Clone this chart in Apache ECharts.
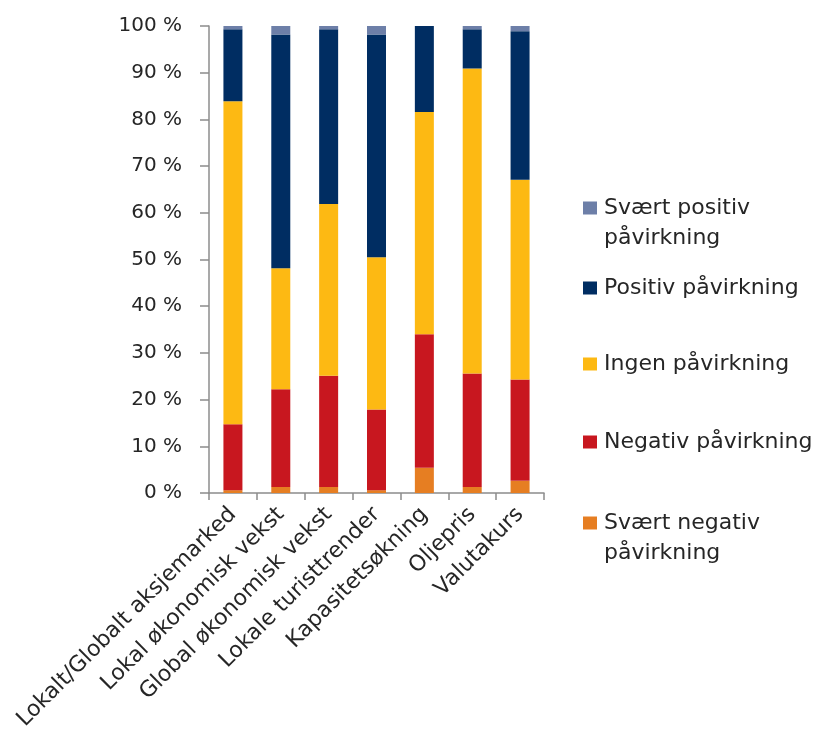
<!DOCTYPE html>
<html>
<head>
<meta charset="utf-8">
<script src="https://cdn.jsdelivr.net/npm/echarts@6/dist/echarts.min.js"></script>
<style>
  html, body { margin: 0; padding: 0; background: #fff; }
  #chart { width: 820px; height: 740px; }
</style>
</head>
<body>
<div id="chart"></div>
<script>
// kategorier (x-aksen)
const categories = [
  "Lokalt/Globalt aksjemarked",
  "Lokal økonomisk vekst",
  "Global økonomisk vekst",
  "Lokale turisttrender",
  "Kapasitetsøkning",
  "Oljepris",
  "Valutakurs"
];

// andeler i prosent, fra bunnen av søylen og opp
const sværtNegativ = [0.6, 1.3, 1.3, 0.6, 5.4, 1.3, 2.6];
const negativ      = [14.1, 20.9, 23.8, 17.3, 28.6, 24.3, 21.7];
const ingen        = [69.2, 25.9, 36.8, 32.6, 47.6, 65.3, 42.8];
const positiv      = [15.4, 50.1, 37.4, 47.7, 18.4, 8.4, 31.8];
const sværtPositiv = [0.7, 1.8, 0.7, 1.8, 0.0, 0.7, 1.1];

const seriesNames = [
  "Svært negativ påvirkning",
  "Negativ påvirkning",
  "Ingen påvirkning",
  "Positiv påvirkning",
  "Svært positiv påvirkning"
];
const seriesValues = [sværtNegativ, negativ, ingen, positiv, sværtPositiv];
const colors = ["#e67e22", "#c8171f", "#fdb913", "#002d62", "#6d7fa8"];

// legendetekst (med linjeskift der originalen bryter)
const legendLabels = {
  "Svært positiv påvirkning": "Svært positiv\npåvirkning",
  "Positiv påvirkning": "Positiv påvirkning",
  "Ingen påvirkning": "Ingen påvirkning",
  "Negativ påvirkning": "Negativ påvirkning",
  "Svært negativ påvirkning": "Svært negativ\npåvirkning"
};
const legendOrder = [
  "Svært positiv påvirkning",
  "Positiv påvirkning",
  "Ingen påvirkning",
  "Negativ påvirkning",
  "Svært negativ påvirkning"
];
const legendIconY = [208, 288, 364, 442, 523];

const font = "'DejaVu Sans', sans-serif";
const lineH = 30;

let chart = echarts.init(document.getElementById("chart"));

// en legende per post, så ikonet står ved første tekstlinje
let legends = legendOrder.map((name, i) => {
  let twoLines = legendLabels[name].indexOf("\n") >= 0;
  return {
    data: [name],
    left: 583,
    top: twoLines ? legendIconY[i] - lineH * 1.5 : legendIconY[i] - lineH / 2,
    padding: 0,
    itemWidth: 14,
    itemHeight: 13,
    icon: "rect",
    selectedMode: false,
    // tom linje over teksten gjør at første linje havner midt på ikonet
    formatter: (n) => (twoLines ? " \n" : "") + legendLabels[n],
    textStyle: {
      fontFamily: font,
      fontSize: 22,
      color: "#262626",
      lineHeight: lineH,
      padding: [0, 0, 0, 2]
    }
  };
});

let option = {
  animation: false,
  backgroundColor: "#fff",
  legend: legends,
  grid: {
    left: 209,
    right: 276,
    top: 26,
    bottom: 247
  },
  xAxis: {
    type: "category",
    data: categories,
    axisLine: { lineStyle: { color: "#8c8c8c", width: 1.5 } },
    axisTick: { show: true, length: 7, alignWithLabel: false, lineStyle: { color: "#8c8c8c", width: 1.5 } },
    axisLabel: {
      interval: 0,
      rotate: 45,
      margin: 18,
      fontFamily: font,
      fontSize: 22,
      color: "#262626"
    }
  },
  yAxis: {
    type: "value",
    min: 0,
    max: 100,
    interval: 10,
    axisLine: { show: true, lineStyle: { color: "#8c8c8c", width: 1.5 } },
    axisTick: { show: true, length: 9, lineStyle: { color: "#8c8c8c", width: 1.5 } },
    splitLine: { show: false },
    axisLabel: {
      formatter: "{value} %",
      margin: 27,
      fontFamily: font,
      fontSize: 20,
      color: "#262626"
    }
  },
  series: seriesNames.map((name, i) => ({
    name: name,
    type: "bar",
    stack: "total",
    barWidth: 19,
    data: seriesValues[i],
    itemStyle: { color: colors[i] }
  }))
};

chart.setOption(option);
</script>
</body>
</html>
